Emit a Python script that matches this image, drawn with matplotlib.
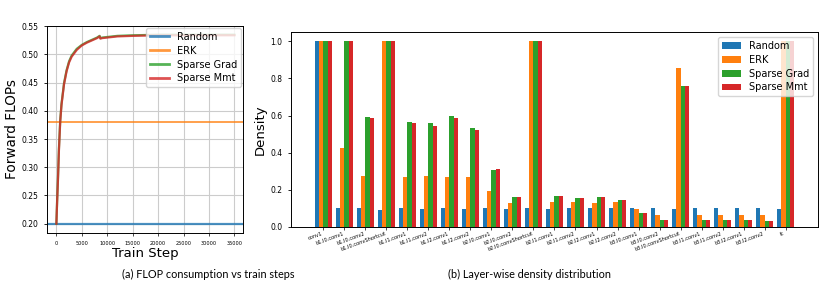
import numpy as np
import matplotlib.pyplot as plt

# ---- (a) forward FLOPs over training ----
steps = [0, 150, 300, 500, 750, 1000, 1500, 2000, 2500, 3000, 4000, 5000,
         6000, 7000, 8000, 8500, 8650, 9000, 10000, 12000, 15000, 20000,
         25000, 30000, 35000]
flops_grad = [0.200, 0.242, 0.278, 0.333, 0.383, 0.412, 0.449, 0.472, 0.488,
              0.498, 0.510, 0.517, 0.522, 0.526, 0.530, 0.533, 0.529, 0.530,
              0.531, 0.533, 0.534, 0.535, 0.535, 0.535, 0.535]
flops_mmt = [0.200, 0.240, 0.275, 0.330, 0.380, 0.410, 0.447, 0.470, 0.486,
             0.496, 0.508, 0.516, 0.521, 0.525, 0.529, 0.532, 0.528, 0.529,
             0.530, 0.532, 0.533, 0.534, 0.534, 0.534, 0.534]
flops_random = 0.20
flops_erk = 0.38

# ---- (b) layer-wise density ----
layers = ['conv1', 'b1.l0.conv1', 'b1.l0.conv2', 'b1.l0.convShortcut',
          'b1.l1.conv1', 'b1.l1.conv2', 'b1.l2.conv1', 'b1.l2.conv2',
          'b2.l0.conv1', 'b2.l0.conv2', 'b2.l0.convShortcut',
          'b2.l1.conv1', 'b2.l1.conv2', 'b2.l2.conv1', 'b2.l2.conv2',
          'b3.l0.conv1', 'b3.l0.conv2', 'b3.l0.convShortcut',
          'b3.l1.conv1', 'b3.l1.conv2', 'b3.l2.conv1', 'b3.l2.conv2', 'fc']
dens_random = [1.0, 0.102, 0.100, 0.090, 0.100, 0.099, 0.104, 0.099, 0.102,
               0.099, 0.104, 0.099, 0.100, 0.100, 0.100, 0.100, 0.100, 0.099,
               0.100, 0.100, 0.100, 0.100, 0.095]
dens_erk = [1.0, 0.427, 0.275, 1.0, 0.271, 0.275, 0.268, 0.268, 0.194,
            0.129, 1.0, 0.133, 0.133, 0.131, 0.133, 0.097, 0.065, 0.856,
            0.065, 0.065, 0.065, 0.065, 1.0]
dens_grad = [1.0, 1.0, 0.594, 1.0, 0.567, 0.562, 0.600, 0.533, 0.307, 0.160,
             1.0, 0.167, 0.156, 0.163, 0.147, 0.074, 0.040, 0.760, 0.040,
             0.040, 0.040, 0.032, 1.0]
dens_mmt = [1.0, 1.0, 0.585, 1.0, 0.558, 0.546, 0.589, 0.522, 0.311, 0.163,
            1.0, 0.165, 0.156, 0.163, 0.147, 0.075, 0.040, 0.760, 0.040,
            0.040, 0.040, 0.032, 1.0]

fig = plt.figure(figsize=(8.3, 2.93), dpi=100)

ax1 = fig.add_axes([0.0566, 0.2048, 0.2362, 0.7065])
ax1.axhline(flops_random, color='tab:blue', lw=1.6, alpha=0.8, label='Random')
ax1.axhline(flops_erk, color='tab:orange', lw=1.3, alpha=0.8, label='ERK')
ax1.plot(steps, flops_grad, color='tab:green', lw=1.6, alpha=0.8, label='Sparse Grad')
ax1.plot(steps, flops_mmt, color='tab:red', lw=1.6, alpha=0.8, label='Sparse Mmt')
ax1.set_xlim(-1850, 36700)
ax1.set_ylim(0.1835, 0.5505)
ax1.set_xticks(np.arange(0, 35001, 5000))
ax1.set_yticks(np.arange(0.20, 0.551, 0.05))
ax1.tick_params(axis='x', labelsize=3.6, length=2, width=0.5)
ax1.tick_params(axis='y', labelsize=5.5, length=2.5, width=0.6)
ax1.grid(True, color='#cccccc', lw=0.8)
ax1.set_xlabel('Train Step', fontsize=9.5, labelpad=1)
ax1.set_ylabel('Forward FLOPs', fontsize=9.8, labelpad=2)
leg1 = ax1.legend(loc='upper right', fontsize=7, handlelength=2.0, borderpad=0.35,
                  labelspacing=0.4, borderaxespad=0.25)
for ln in leg1.get_lines():
    ln.set_linewidth(2.0)
for s in ax1.spines.values():
    s.set_linewidth(0.7)

ax2 = fig.add_axes([0.3506, 0.2253, 0.6349, 0.6655])
x = np.arange(len(layers))
w = 0.2
ax2.bar(x - 1.5 * w, dens_random, w, color='tab:blue', label='Random')
ax2.bar(x - 0.5 * w, dens_erk, w, color='tab:orange', label='ERK')
ax2.bar(x + 0.5 * w, dens_grad, w, color='tab:green', label='Sparse Grad')
ax2.bar(x + 1.5 * w, dens_mmt, w, color='tab:red', label='Sparse Mmt')
ax2.set_xticks(x)
ax2.set_xticklabels(layers, rotation=20, ha='right', fontsize=3.6)
ax2.tick_params(axis='x', length=2, width=0.5, pad=1)
ax2.tick_params(axis='y', labelsize=5.5, length=2.5, width=0.6)
ax2.set_ylabel('Density', fontsize=9.5, labelpad=3)
ax2.legend(loc='upper right', fontsize=7, borderpad=0.4, handlelength=2.0,
           labelspacing=0.4, borderaxespad=0.5)
for s in ax2.spines.values():
    s.set_linewidth(0.7)

fig.text(0.251, 0.05, '(a) FLOP consumption vs train steps', ha='center',
         fontsize=7.8, family=['Lato', 'DejaVu Sans'])
fig.text(0.638, 0.05, '(b) Layer-wise density distribution', ha='center',
         fontsize=7.8, family=['Lato', 'DejaVu Sans'])

fig.savefig('out.png', dpi=100)
